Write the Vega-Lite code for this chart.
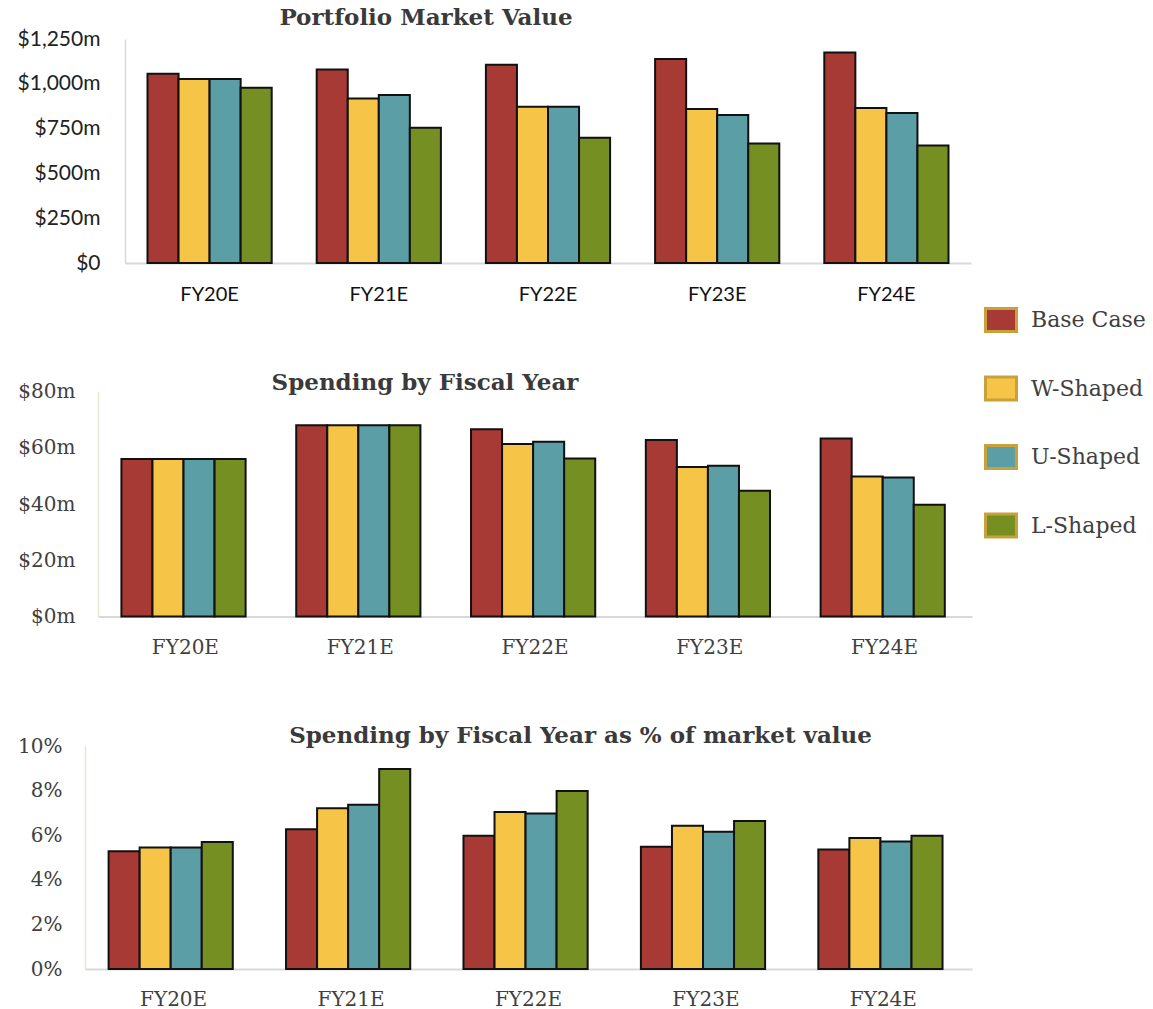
{
  "$schema": "https://vega.github.io/schema/vega-lite/v6.json",
  "padding": {"left": 16, "top": 7, "right": 0, "bottom": 0},
  "background": "white",
  "data": {
    "values": [
      {"year": "FY20E", "scenario": "Base Case", "mv": 1056, "spend": 56, "pct": 5.28},
      {"year": "FY20E", "scenario": "W-Shaped", "mv": 1027, "spend": 56, "pct": 5.45},
      {"year": "FY20E", "scenario": "U-Shaped", "mv": 1027, "spend": 56, "pct": 5.45},
      {"year": "FY20E", "scenario": "L-Shaped", "mv": 978, "spend": 56, "pct": 5.69},
      {"year": "FY21E", "scenario": "Base Case", "mv": 1080, "spend": 68, "pct": 6.27},
      {"year": "FY21E", "scenario": "W-Shaped", "mv": 918, "spend": 68, "pct": 7.21},
      {"year": "FY21E", "scenario": "U-Shaped", "mv": 937, "spend": 68, "pct": 7.36},
      {"year": "FY21E", "scenario": "L-Shaped", "mv": 755, "spend": 68, "pct": 8.97},
      {"year": "FY22E", "scenario": "Base Case", "mv": 1107, "spend": 66.6, "pct": 5.98},
      {"year": "FY22E", "scenario": "W-Shaped", "mv": 872, "spend": 61.3, "pct": 7.04},
      {"year": "FY22E", "scenario": "U-Shaped", "mv": 872, "spend": 62.1, "pct": 6.97},
      {"year": "FY22E", "scenario": "L-Shaped", "mv": 699, "spend": 56.2, "pct": 7.98},
      {"year": "FY23E", "scenario": "Base Case", "mv": 1138, "spend": 62.8, "pct": 5.48},
      {"year": "FY23E", "scenario": "W-Shaped", "mv": 859, "spend": 53.2, "pct": 6.42},
      {"year": "FY23E", "scenario": "U-Shaped", "mv": 826, "spend": 53.6, "pct": 6.15},
      {"year": "FY23E", "scenario": "L-Shaped", "mv": 667, "spend": 44.7, "pct": 6.64},
      {"year": "FY24E", "scenario": "Base Case", "mv": 1175, "spend": 63.3, "pct": 5.36},
      {"year": "FY24E", "scenario": "W-Shaped", "mv": 865, "spend": 49.8, "pct": 5.87},
      {"year": "FY24E", "scenario": "U-Shaped", "mv": 837, "spend": 49.4, "pct": 5.72},
      {"year": "FY24E", "scenario": "L-Shaped", "mv": 656, "spend": 39.7, "pct": 5.98}
    ]
  },
  "spacing": 67.5,
  "vconcat": [
    {"spacing": 0, "hconcat": [
    {"width": 1, "height": 1, "data": {"values": [{"s": ""}]}, "mark": {"type": "text"}, "encoding": {"text": {"field": "s", "type": "nominal"}}},
    {
      "width": 846,
      "height": 224,
      "title": {"text": "Portfolio Market Value", "anchor": "middle", "dx": -122, "offset": -20, "baseline": "alphabetic", "font": "DejaVu Serif", "fontSize": 23, "fontWeight": "bold", "color": "#3a3a3a"},
      "mark": {"type": "bar", "stroke": "#111111", "strokeWidth": 2},
      "encoding": {
        "x": {"field": "year", "type": "nominal", "scale": {"paddingInner": 0.266, "paddingOuter": 0.133},
          "axis": {"title": null, "labelAngle": 0, "ticks": false, "domainColor": "#d9d9d9", "domainWidth": 2, "labelFont": "Lato", "labelFontSize": 20, "labelColor": "#111111", "labelPadding": 21}},
        "xOffset": {"field": "scenario", "type": "nominal", "sort": ["Base Case", "W-Shaped", "U-Shaped", "L-Shaped"]},
        "y": {"field": "mv", "type": "quantitative", "scale": {"domain": [0, 1250], "nice": false},
          "axis": {"title": null, "values": [0, 250, 500, 750, 1000, 1250], "labelExpr": "datum.value == 0 ? '$0' : '$' + format(datum.value, ',') + 'm'", "grid": false, "ticks": false, "domainColor": "#d9d9d9", "domainWidth": 1.5, "labelFont": "Lato", "labelFontSize": 21, "labelColor": "#222222", "labelPadding": 25}},
        "color": {"field": "scenario", "type": "nominal",
          "scale": {"domain": ["Base Case", "W-Shaped", "U-Shaped", "L-Shaped"], "range": ["#A83A35", "#F6C548", "#5B9EA6", "#758F22"]},
          "legend": {"title": null, "orient": "none", "legendX": 968, "legendY": 264, "symbolType": "M-1,-0.74H1V0.74H-1Z", "symbolSize": 961, "symbolStrokeColor": "#C9A13B", "symbolStrokeWidth": 3, "symbolOpacity": 1, "labelFont": "DejaVu Serif", "labelFontSize": 22, "labelColor": "#404040", "labelOffset": 13, "rowPadding": 32.5}}
      }
    }]},
    {"spacing": 0, "hconcat": [
    {"width": 1, "height": 1, "data": {"values": [{"s": ""}]}, "mark": {"type": "text"}, "encoding": {"text": {"field": "s", "type": "nominal"}}},
    {
      "width": 874,
      "height": 225,
      "title": {"text": "Spending by Fiscal Year", "anchor": "middle", "dx": -110, "offset": -31, "baseline": "alphabetic", "font": "DejaVu Serif", "fontSize": 23, "fontWeight": "bold", "color": "#3a3a3a"},
      "mark": {"type": "bar", "stroke": "#111111", "strokeWidth": 2},
      "encoding": {
        "x": {"field": "year", "type": "nominal", "scale": {"paddingInner": 0.268, "paddingOuter": 0.134},
          "axis": {"title": null, "labelAngle": 0, "ticks": false, "domainColor": "#d9d9d9", "domainWidth": 2, "labelFont": "DejaVu Serif", "labelFontSize": 20, "labelColor": "#404040", "labelPadding": 21}},
        "xOffset": {"field": "scenario", "type": "nominal", "sort": ["Base Case", "W-Shaped", "U-Shaped", "L-Shaped"]},
        "y": {"field": "spend", "type": "quantitative", "scale": {"domain": [0, 80], "nice": false},
          "axis": {"title": null, "values": [0, 20, 40, 60, 80], "labelExpr": "'$' + datum.value + 'm'", "grid": false, "ticks": false, "domainColor": "#ede4d0", "domainWidth": 1.5, "labelFont": "DejaVu Serif", "labelFontSize": 20, "labelColor": "#404040", "labelPadding": 23}},
        "color": {"field": "scenario", "type": "nominal",
          "scale": {"domain": ["Base Case", "W-Shaped", "U-Shaped", "L-Shaped"], "range": ["#A83A35", "#F6C548", "#5B9EA6", "#758F22"]},
          "legend": {"title": null, "orient": "none", "legendX": 968, "legendY": 264, "symbolType": "M-1,-0.74H1V0.74H-1Z", "symbolSize": 961, "symbolStrokeColor": "#C9A13B", "symbolStrokeWidth": 3, "symbolOpacity": 1, "labelFont": "DejaVu Serif", "labelFontSize": 22, "labelColor": "#404040", "labelOffset": 13, "rowPadding": 32.5}}
      }
    }]},
    {"spacing": 0, "hconcat": [
    {"width": 1, "height": 1, "data": {"values": [{"s": ""}]}, "mark": {"type": "text"}, "encoding": {"text": {"field": "s", "type": "nominal"}}},
    {
      "width": 887,
      "height": 223,
      "title": {"text": "Spending by Fiscal Year as % of market value", "anchor": "middle", "dx": 52, "offset": -30, "baseline": "alphabetic", "font": "DejaVu Serif", "fontSize": 23, "fontWeight": "bold", "color": "#3a3a3a"},
      "mark": {"type": "bar", "stroke": "#111111", "strokeWidth": 2},
      "encoding": {
        "x": {"field": "year", "type": "nominal", "scale": {"paddingInner": 0.267, "paddingOuter": 0.133},
          "axis": {"title": null, "labelAngle": 0, "ticks": false, "domainColor": "#d9d9d9", "domainWidth": 2, "labelFont": "DejaVu Serif", "labelFontSize": 20, "labelColor": "#404040", "labelPadding": 20}},
        "xOffset": {"field": "scenario", "type": "nominal", "sort": ["Base Case", "W-Shaped", "U-Shaped", "L-Shaped"]},
        "y": {"field": "pct", "type": "quantitative", "scale": {"domain": [0, 10], "nice": false},
          "axis": {"title": null, "values": [0, 2, 4, 6, 8, 10], "labelExpr": "datum.value + '%'", "grid": false, "ticks": false, "domainColor": "#ede4d0", "domainWidth": 1.5, "labelFont": "DejaVu Serif", "labelFontSize": 20, "labelColor": "#404040", "labelPadding": 23}},
        "color": {"field": "scenario", "type": "nominal",
          "scale": {"domain": ["Base Case", "W-Shaped", "U-Shaped", "L-Shaped"], "range": ["#A83A35", "#F6C548", "#5B9EA6", "#758F22"]},
          "legend": {"title": null, "orient": "none", "legendX": 968, "legendY": 264, "symbolType": "M-1,-0.74H1V0.74H-1Z", "symbolSize": 961, "symbolStrokeColor": "#C9A13B", "symbolStrokeWidth": 3, "symbolOpacity": 1, "labelFont": "DejaVu Serif", "labelFontSize": 22, "labelColor": "#404040", "labelOffset": 13, "rowPadding": 32.5}}
      }
    }]}
  ],
  "config": {"view": {"stroke": null}}
}
